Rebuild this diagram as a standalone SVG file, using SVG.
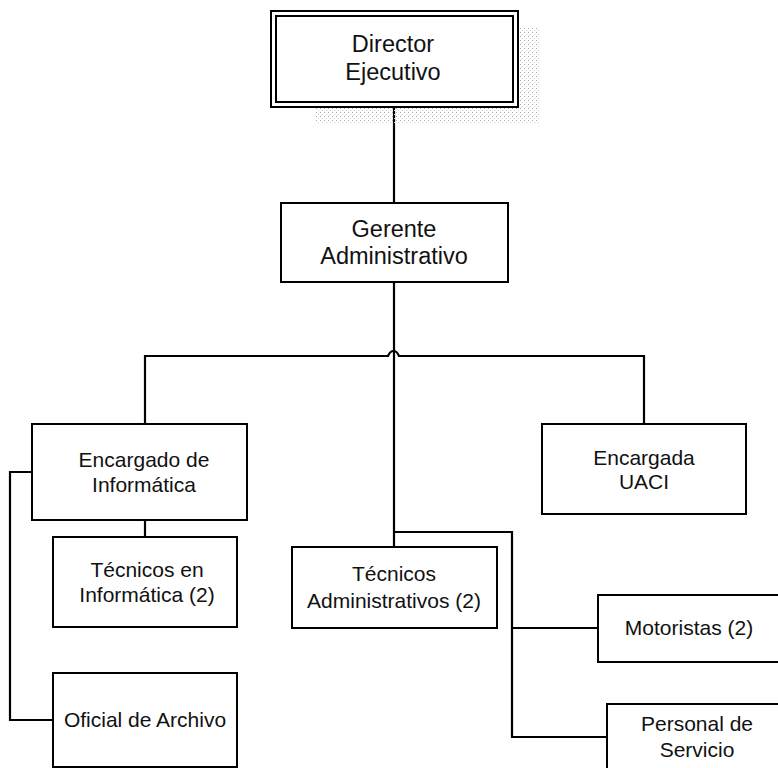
<svg xmlns="http://www.w3.org/2000/svg" width="778" height="768" viewBox="0 0 778 768">
  <style>
    .box { fill: #ffffff; stroke: #000000; stroke-width: 2; }
    .link { fill: none; stroke: #000000; stroke-width: 2.2; }
    text { font-family: "Liberation Sans", Arial, sans-serif; font-size: 21px; fill: #111111; text-anchor: middle; }
    .big { font-size: 23.5px; }
  </style>
  <defs>
    <pattern id="stipple" width="4" height="4" patternUnits="userSpaceOnUse">
      <rect x="0" y="0" width="1" height="1" fill="#a8a8a8"/>
      <rect x="2" y="2" width="1" height="1" fill="#d0d0d0"/>
    </pattern>
  </defs>
  <rect width="778" height="768" fill="#ffffff"/>

  <!-- connectors -->
  <g id="connectors">
    <path class="link" d="M394 107 V203"/>
    <path class="link" d="M394 282 V547"/>
    <!-- main branch line with a hop over the vertical trunk -->
    <path class="link" d="M145 424 V356 H388 Q390 351 393.5 351 Q397 351 399 356 H644 V424"/>
    <path class="link" d="M394 532 H512 V737 H607"/>
    <path class="link" d="M512 628 H598"/>
    <path class="link" d="M145 520 V537"/>
    <path class="link" d="M32 472 H10 V720 H53"/>
  </g>

  <!-- Director Ejecutivo -->
  <g id="director">
    <rect x="519" y="28" width="20" height="90" fill="url(#stipple)"/>
    <rect x="315" y="108" width="224" height="16" fill="url(#stipple)"/>
    <rect class="box" x="271" y="11" width="247" height="96"/>
    <rect class="box" x="276" y="16" width="237" height="86"/>
    <text class="big" x="393" y="52">Director</text>
    <text class="big" x="393" y="80">Ejecutivo</text>
  </g>

  <!-- Gerente Administrativo -->
  <g id="gerente">
    <rect class="box" x="281" y="203" width="227" height="79"/>
    <text class="big" x="394" y="237">Gerente</text>
    <text class="big" x="394" y="264">Administrativo</text>
  </g>

  <!-- Encargado de Informática -->
  <g id="encargado-informatica">
    <rect class="box" x="32" y="424" width="215" height="96"/>
    <text x="144" y="467">Encargado de</text>
    <text x="144" y="492">Informática</text>
  </g>

  <!-- Encargada UACI -->
  <g id="encargada-uaci">
    <rect class="box" x="542" y="424" width="204" height="90"/>
    <text x="644" y="465">Encargada</text>
    <text x="644" y="489">UACI</text>
  </g>

  <!-- Técnicos en Informática -->
  <g id="tecnicos-informatica">
    <rect class="box" x="53" y="537" width="184" height="90"/>
    <text x="147" y="577">Técnicos en</text>
    <text x="147" y="602">Informática (2)</text>
  </g>

  <!-- Técnicos Administrativos -->
  <g id="tecnicos-administrativos">
    <rect class="box" x="292" y="547" width="205" height="81"/>
    <text x="394" y="581">Técnicos</text>
    <text x="394" y="608">Administrativos (2)</text>
  </g>

  <!-- Motoristas -->
  <g id="motoristas">
    <rect class="box" x="598" y="595" width="200" height="67"/>
    <text x="689" y="635">Motoristas (2)</text>
  </g>

  <!-- Oficial de Archivo -->
  <g id="oficial-archivo">
    <rect class="box" x="53" y="673" width="184" height="94"/>
    <text x="145" y="727">Oficial de Archivo</text>
  </g>

  <!-- Personal de Servicio -->
  <g id="personal-servicio">
    <rect class="box" x="607" y="704" width="200" height="80"/>
    <text x="697" y="731">Personal de</text>
    <text x="697" y="757">Servicio</text>
  </g>
</svg>
